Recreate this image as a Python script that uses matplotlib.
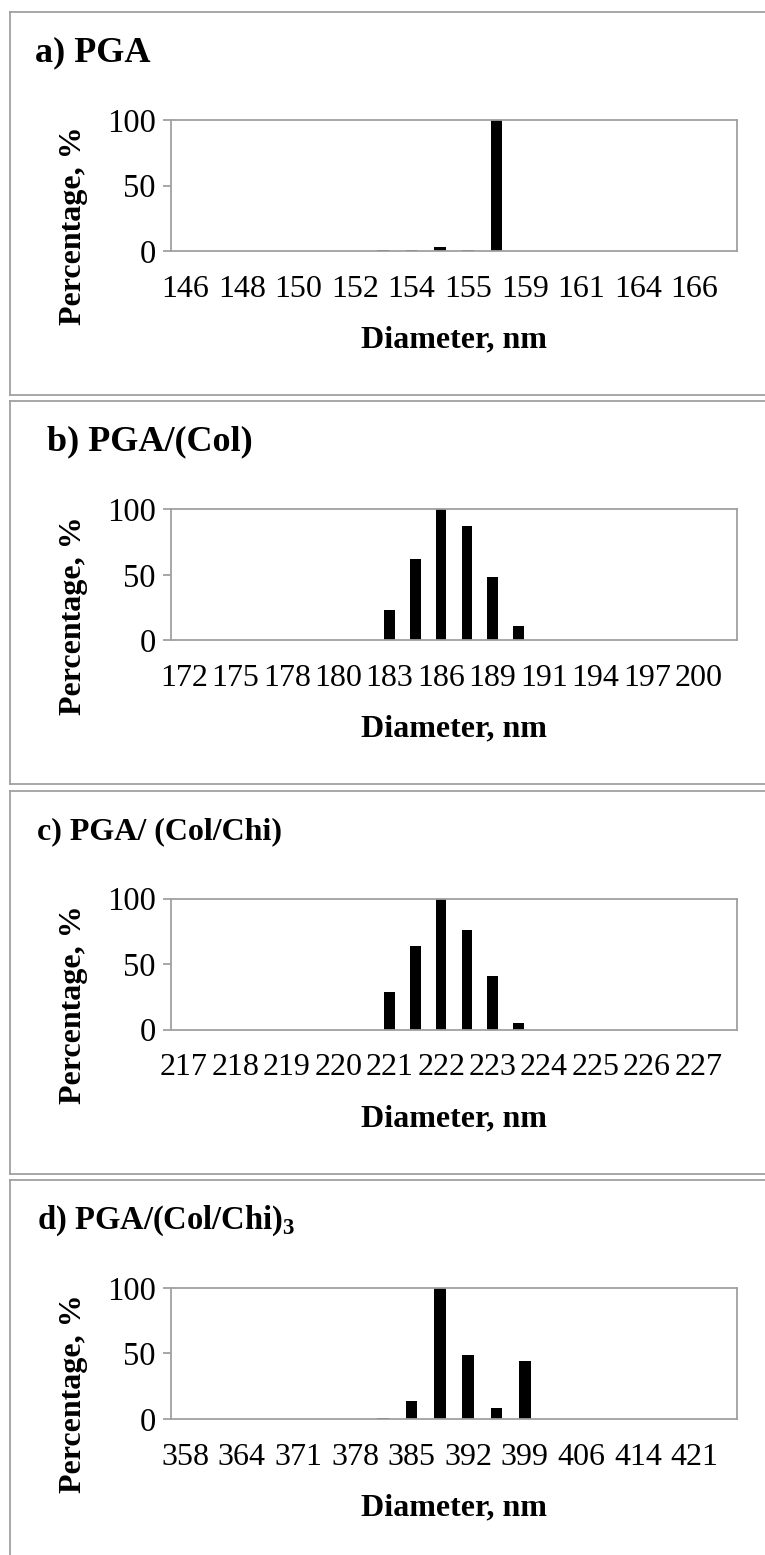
import matplotlib
matplotlib.use("Agg")
import matplotlib.pyplot as plt
from matplotlib.lines import Line2D
import numpy as np

plt.rcParams['font.family'] = ['Liberation Serif', 'DejaVu Serif']
plt.rcParams['mathtext.fontset'] = 'custom'
plt.rcParams['mathtext.rm'] = 'Liberation Serif'
plt.rcParams['mathtext.bf'] = 'Liberation Serif:bold'

# size bins (every other label is hidden, like in the Excel chart)
diam_a = ['146', '147', '148', '149', '150', '151', '152', '153', '154', '154',
          '155', '157', '159', '160', '161', '162', '164', '165', '166', '167']
pct_a = [0, 0, 0, 0, 0, 0, 0, 1.0, 1.0, 2.8, 0.4, 100, 0, 0, 0, 0, 0, 0, 0, 0]

diam_b = ['172', '173', '175', '176', '178', '179', '180', '182', '183', '184', '186',
          '187', '189', '190', '191', '192', '194', '195', '197', '198', '200', '201']
pct_b = [0, 0, 0, 0, 0, 0, 0, 0, 23, 62, 100, 87, 48, 11, 0, 0, 0, 0, 0, 0, 0, 0]

diam_c = ['217', '218', '218', '219', '219', '220', '220', '221', '221', '222', '222',
          '223', '223', '224', '224', '225', '225', '226', '226', '227', '227', '228']
pct_c = [0, 0, 0, 0, 0, 0, 0, 0, 29, 64, 100, 76, 41, 5, 0, 0, 0, 0, 0, 0, 0, 0]

diam_d = ['358', '361', '364', '368', '371', '375', '378', '381', '385', '388',
          '392', '396', '399', '403', '406', '410', '414', '417', '421', '425']
pct_d = [0, 0, 0, 0, 0, 0, 0, 1.0, 14, 100, 49, 8, 44, 0, 0, 0, 0, 0, 0, 0]

titles = ['a) PGA', 'b) PGA/(Col)', 'c) PGA/ (Col/Chi)', r'd) PGA/(Col/Chi)$_\mathbf{3}$']
title_size = [26, 26, 23, 23.5]
title_x = [35, 47, 37, 37]
panels = [(diam_a, pct_a), (diam_b, pct_b), (diam_c, pct_c), (diam_d, pct_d)]

W, H = 765, 1555
fig = plt.figure(figsize=(W / 100, H / 100), dpi=100)

gray = '#a0a0a0'
pitch = 389.3

def fx(x):
    return x / W

def fy(y):
    return 1 - y / H

# panel frames
for i in range(4):
    top = 12 + i * pitch
    bot = top + 383
    fig.add_artist(Line2D([fx(10), fx(10)], [fy(top), fy(min(bot, H + 5))], color=gray, lw=1.3))
    fig.add_artist(Line2D([fx(10), 1.01], [fy(top), fy(top)], color=gray, lw=1.3))
    if i < 3:
        fig.add_artist(Line2D([fx(10), 1.01], [fy(bot), fy(bot)], color=gray, lw=1.3))

for i, (cats, vals) in enumerate(panels):
    top = 120 + i * pitch
    ax = fig.add_axes([fx(171), fy(top + 131), 566 / W, 131 / H])
    x = np.arange(len(cats))
    ax.bar(x, vals, width=0.41, color='black')
    ax.set_xlim(-0.5, len(cats) - 0.5)
    ax.set_ylim(0, 100)
    ax.set_yticks([0, 50, 100])
    ax.set_xticks(x[::2])
    ax.set_xticklabels(cats[::2])
    for s in ax.spines.values():
        s.set_color(gray)
        s.set_linewidth(1.3)
    ax.tick_params(axis='x', length=0, pad=17, labelsize=23)
    ax.tick_params(axis='y', length=6, width=1.3, color=gray, pad=5, labelsize=23.5)

    fig.text(fx(title_x[i]), fy(top - 67), titles[i], fontsize=title_size[i],
             fontweight='bold', ha='left', va='center')
    fig.text(fx(74), fy(top + 106), 'Percentage, %', fontsize=23, fontweight='bold',
             rotation=90, ha='center', va='center')
    fig.text(fx(454), fy(top + 220), 'Diameter, nm', fontsize=23, fontweight='bold',
             ha='center', va='center')

fig.savefig('out.png', dpi=100)
